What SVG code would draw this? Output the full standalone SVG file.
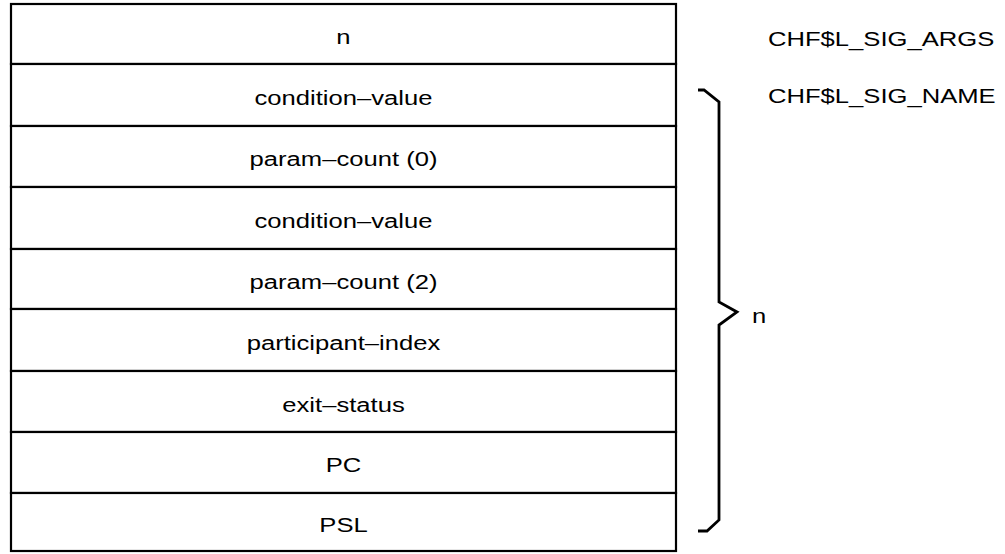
<svg xmlns="http://www.w3.org/2000/svg" width="1005" height="554" viewBox="0 0 1005 554">
<style>
  .cell { fill: #ffffff; stroke: #000000; stroke-width: 2.2; }
  .lbl { font-family: "Liberation Sans", Arial, sans-serif; font-size: 21px; fill: #000000; }
  .mid { text-anchor: middle; }
  .brace { fill: none; stroke: #000000; stroke-width: 2.8; stroke-linejoin: miter; }
</style>
<rect x="0" y="0" width="1005" height="554" fill="#ffffff"/>
<g id="row1"><rect class="cell" x="11" y="4" width="665" height="60"/><text class="lbl mid" transform="translate(343.5,43.5) scale(1.22,1)">n</text></g>
<g id="row2"><rect class="cell" x="11" y="64" width="665" height="62"/><text class="lbl mid" transform="translate(343.5,105) scale(1.22,1)">condition–value</text></g>
<g id="row3"><rect class="cell" x="11" y="126" width="665" height="61"/><text class="lbl mid" transform="translate(343.5,166) scale(1.22,1)">param–count (0)</text></g>
<g id="row4"><rect class="cell" x="11" y="187" width="665" height="62"/><text class="lbl mid" transform="translate(343.5,228) scale(1.22,1)">condition–value</text></g>
<g id="row5"><rect class="cell" x="11" y="249" width="665" height="60"/><text class="lbl mid" transform="translate(343.5,289) scale(1.22,1)">param–count (2)</text></g>
<g id="row6"><rect class="cell" x="11" y="309" width="665" height="62"/><text class="lbl mid" transform="translate(343.5,350) scale(1.22,1)">participant–index</text></g>
<g id="row7"><rect class="cell" x="11" y="371" width="665" height="61"/><text class="lbl mid" transform="translate(343.5,411.5) scale(1.22,1)">exit–status</text></g>
<g id="row8"><rect class="cell" x="11" y="432" width="665" height="61"/><text class="lbl mid" transform="translate(343.5,472) scale(1.22,1)">PC</text></g>
<g id="row9"><rect class="cell" x="11" y="493" width="665" height="58"/><text class="lbl mid" transform="translate(343.5,532) scale(1.22,1)">PSL</text></g>
<g id="labels">
  <text class="lbl" transform="translate(768,46) scale(1.22,1)">CHF$L_SIG_ARGS</text>
  <text class="lbl" transform="translate(768,103) scale(1.22,1)">CHF$L_SIG_NAME</text>
</g>
<g id="connectors">
  <path class="brace" d="M698,90 L704,90 L719,102 L719,302 L737,312 L719,325 L719,520 L707,531 L698,531"/>
</g>
<g id="brace-label"><text class="lbl" transform="translate(752,323) scale(1.22,1)">n</text></g>
</svg>
